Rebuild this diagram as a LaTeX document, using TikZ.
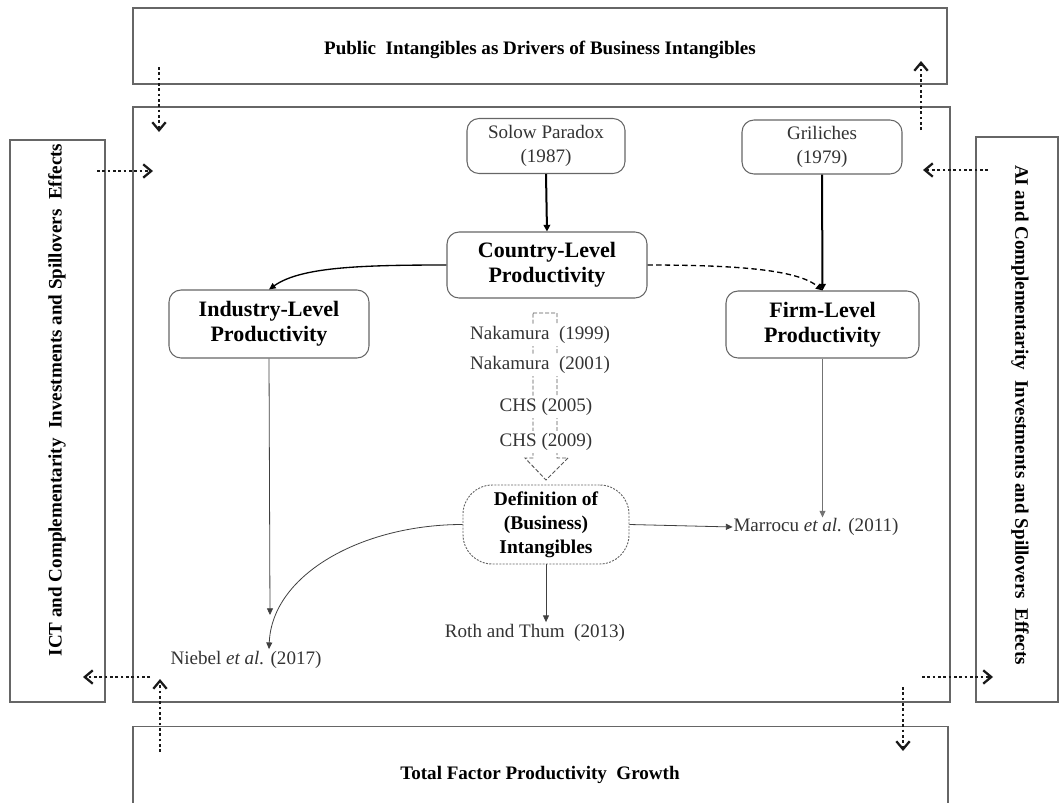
\documentclass[tikz,border=0pt]{standalone}
\usepackage{fontspec}
\setmainfont{Liberation Serif}
\usetikzlibrary{arrows.meta}
\begin{document}
\begin{tikzpicture}[x=0.75pt,y=-0.75pt,
  frame/.style={draw=black!60, line width=0.9pt, inner sep=0pt},
  rbox/.style={draw=black!60, line width=0.8pt, rounded corners=9pt, align=center, inner sep=0pt},
  reg/.style={font=\fontsize{14.3}{18.5}\selectfont, text=black!80, inner sep=1.5pt},
  headtxt/.style={font=\fontsize{16.5}{19}\selectfont\bfseries},
  outtxt/.style={font=\fontsize{14.3}{17}\selectfont\bfseries},
  thinarr/.style={draw=black!75, line width=0.6pt, -{Triangle[length=5pt,width=4.5pt]}},
  thickarr/.style={draw=black, line width=1.5pt, -{Triangle[length=5pt,width=5pt]}},
  dotarr/.style={draw=black!90, line width=2pt, dash pattern=on 2pt off 2pt,
                 -{Straight Barb[length=6pt,width=10pt,line width=1.7pt]}}
]
\useasboundingbox (0,0) rectangle (1060,803);

% outer frames
\node[frame, minimum width=610.5pt, minimum height=57pt] (top) at (540,46) {};
\node[outtxt] (toptxt) at (540,50) {Public\ \ Intangibles as Drivers of Business Intangibles};
\node[frame, minimum width=612.75pt, minimum height=446.25pt] (main) at (541.5,404.5) {};
\node[frame, minimum width=71.25pt, minimum height=421.5pt] (left) at (57.5,421) {};
\node[outtxt, rotate=90] (lefttxt) at (57,400) {ICT and Complementarity\ \ Investments and Spillovers\ \ Effects};
\node[frame, minimum width=61.5pt, minimum height=423.75pt] (right) at (1017,419.5) {};
\node[outtxt, rotate=-90] (righttxt) at (1020,415) {AI and Complementarity\ \ Investments and Spillovers\ \ Effects};
\node[frame, minimum width=611.25pt, minimum height=62pt] (bot) at (540.5,768) {};
\node[outtxt] (bottxt) at (540,775) {Total Factor Productivity\ \ Growth};

% dotted arrows
\coordinate (d1s) at (159,67);   \coordinate (d1e) at (159,132);
\coordinate (d2s) at (97,171);   \coordinate (d2e) at (153,171);
\coordinate (d3s) at (921,130);  \coordinate (d3e) at (921,61);
\coordinate (d4s) at (988,170);  \coordinate (d4e) at (923,170);
\coordinate (d5s) at (150,677);  \coordinate (d5e) at (83,677);
\coordinate (d6s) at (160,752);  \coordinate (d6e) at (160,679);
\coordinate (d7s) at (922,677);  \coordinate (d7e) at (993,677);
\coordinate (d8s) at (903,687);  \coordinate (d8e) at (903,751);
\foreach \i in {1,...,8} {\draw[dotarr] (d\i s) -- (d\i e);}

% inner nodes
\node[rbox, reg, minimum width=118.5pt, minimum height=41.25pt, inner sep=0pt] (sol) at (546,146) {Solow Paradox\\(1987)};
\node[rbox, reg, minimum width=120pt, minimum height=40.5pt, inner sep=0pt] (gri) at (822,147) {Griliches\\(1979)};
\node[rbox, headtxt, minimum width=150pt, minimum height=49.5pt] (cty) at (547,265) {Country-Level\\Productivity};
\node[rbox, headtxt, minimum width=150pt, minimum height=51pt] (ind) at (269,324) {Industry-Level\\Productivity};
\node[rbox, headtxt, minimum width=144.75pt, minimum height=50.25pt] (firm) at (822.5,324.5) {Firm-Level\\Productivity};

% block arrow (dashed outline)
\draw[draw=black!65, line width=0.7pt, dash pattern=on 3pt off 1.5pt]
  (533,313) -- (557,313) -- (557,458) -- (568,458) -- (546,480) -- (525,458) -- (533,458) -- cycle;
\node[reg, fill=white] (n99) at (540,335) {Nakamura\ \ (1999)};
\node[reg, fill=white] (n01) at (540,365) {Nakamura\ \ (2001)};
\node[reg, fill=white] (c05) at (546,407) {CHS (2005)};
\node[reg, fill=white] (c09) at (546,442) {CHS (2009)};

\node[draw=black!60, line width=0.7pt, dash pattern=on 1.5pt off 1pt, rounded corners=22pt,
      align=center, inner sep=0pt, minimum width=124.5pt, minimum height=59.25pt,
      font=\fontsize{14.6}{18}\selectfont\bfseries] (def) at (546,524.5) {Definition of\\(Business)\\Intangibles};

\node[reg] (roth) at (535,633) {Roth and Thum\ \ (2013)};
\node[reg, inner sep=0.5pt] (mar) at (816,527) {Marrocu \textit{et al.} (2011)};
\node[reg] (nie) at (246,660) {Niebel \textit{et al.} (2017)};
\coordinate (niestop) at (270,615);

% connectors
\draw[thickarr] (sol.south) -- (cty.north);
\draw[thickarr] (gri.south) -- (firm.north);
\draw[draw=black, line width=1pt, -{Triangle[length=5pt,width=4.5pt]}]
  (cty.west) .. controls +(-90,0) and +(31,-22) .. (ind.north);
\draw[draw=black, line width=1pt, dash pattern=on 4pt off 2.5pt, -{Triangle[length=5pt,width=4.5pt]}]
  (cty.east) .. controls +(95,0) and +(-24,-20) .. (firm.north);
\draw[thinarr] (ind.south) -- (niestop);
\draw[thinarr] (def.west) .. controls +(-100,0) and +(3,-75) .. (ind.south |- nie.north);
\draw[thinarr] (def.south) -- (def.south |- roth.north);
\draw[thinarr] (def.east) -- (mar.west);
\draw[thinarr, draw=black!55] (firm.south) -- (firm.south |- mar.north);
\end{tikzpicture}
\end{document}
